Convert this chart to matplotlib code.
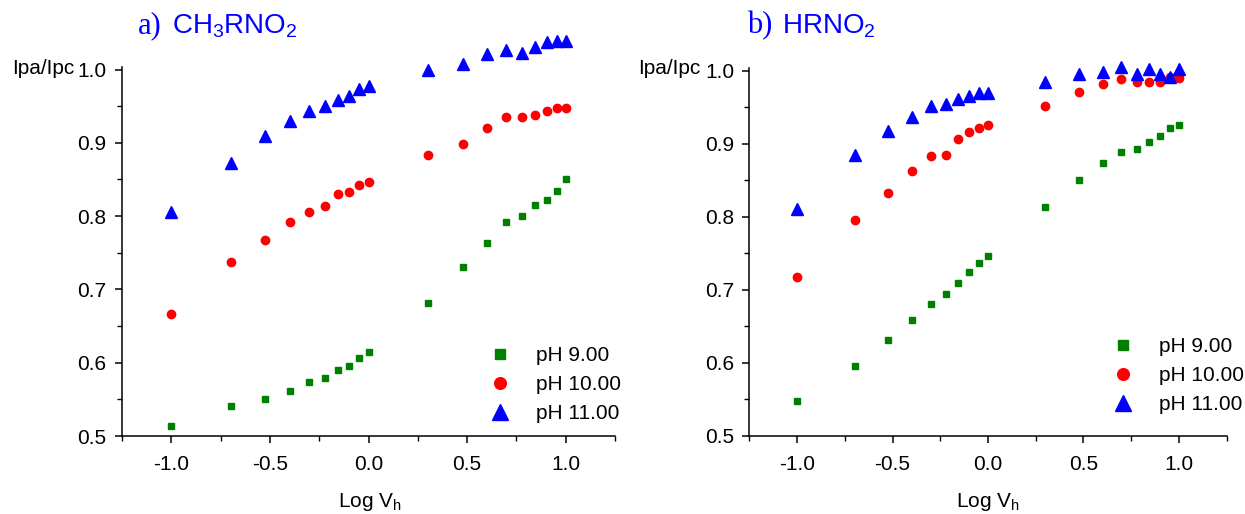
import matplotlib
matplotlib.use("Agg")
import matplotlib.pyplot as plt
from matplotlib.ticker import MultipleLocator

plt.rcParams['font.family'] = ['Liberation Sans', 'DejaVu Sans']
plt.rcParams['mathtext.fontset'] = 'custom'
plt.rcParams['mathtext.rm'] = 'Liberation Sans'
plt.rcParams['mathtext.it'] = 'Liberation Sans'
plt.rcParams['mathtext.default'] = 'rm'

log_v = [-1.0, -0.699, -0.523, -0.398, -0.301, -0.222, -0.155, -0.097, -0.046, 0.0,
         0.301, 0.477, 0.602, 0.699, 0.778, 0.845, 0.903, 0.954, 1.0]

a_ph9 = [0.513, 0.541, 0.551, 0.562, 0.573, 0.579, 0.590, 0.595, 0.606, 0.615,
         0.681, 0.731, 0.763, 0.792, 0.800, 0.815, 0.822, 0.834, 0.851]
a_ph10 = [0.667, 0.737, 0.768, 0.792, 0.806, 0.814, 0.830, 0.833, 0.842, 0.847,
          0.883, 0.899, 0.920, 0.935, 0.935, 0.938, 0.944, 0.948, 0.948]
a_ph11 = [0.805, 0.873, 0.909, 0.930, 0.944, 0.950, 0.958, 0.964, 0.973, 0.977,
          1.000, 1.008, 1.021, 1.027, 1.023, 1.031, 1.037, 1.039, 1.039]

b_ph9 = [0.548, 0.595, 0.631, 0.659, 0.681, 0.694, 0.709, 0.724, 0.737, 0.746,
         0.813, 0.850, 0.874, 0.888, 0.893, 0.903, 0.910, 0.921, 0.926]
b_ph10 = [0.717, 0.795, 0.833, 0.862, 0.883, 0.885, 0.906, 0.916, 0.921, 0.925,
          0.952, 0.971, 0.982, 0.989, 0.984, 0.984, 0.985, 0.991, 0.990]
b_ph11 = [0.810, 0.884, 0.917, 0.937, 0.952, 0.954, 0.961, 0.965, 0.970, 0.970,
          0.984, 0.995, 0.998, 1.005, 0.996, 1.002, 0.996, 0.991, 1.002]

labels = ["pH 9.00", "pH 10.00", "pH 11.00"]
panel_titles = [("a)", r"CH$_3$RNO$_2$"), ("b)", r"HRNO$_2$")]
xticks = [-1.0, -0.5, 0.0, 0.5, 1.0]
yticks = [0.5, 0.6, 0.7, 0.8, 0.9, 1.0]

W, H = 1245, 514
fig = plt.figure(figsize=(W / 100, H / 100), dpi=100)

def fx(px):
    return px / W

def fy(py):
    return 1 - py / H

axes_px = [(122, 615, 436, 69.5), (749.3, 1226.7, 435.7, 70.7)]
datasets = [(a_ph9, a_ph10, a_ph11), (b_ph9, b_ph10, b_ph11)]
legend_px = [(490, 346), (1113, 337)]
title_px = [(138, 172), (747, 782)]
ylab_px = [12, 638]
xlab_px = [370, 988]

for i in range(2):
    x0, x1, yb, yt = axes_px[i]
    ax = fig.add_axes([fx(x0), fy(yb), fx(x1) - fx(x0), fy(yt) - fy(yb)])
    s9, s10, s11 = datasets[i]
    ax.plot(log_v, s9, ls='none', marker='s', ms=5, color='#008000', mec='#008000',
            clip_on=False, label=labels[0])
    ax.plot(log_v, s10, ls='none', marker='o', ms=6, color='#ff0000', mec='#ff0000',
            clip_on=False, label=labels[1])
    ax.plot(log_v, s11, ls='none', marker='^', ms=8, color='#0000ff', mec='#0000ff',
            clip_on=False, label=labels[2])
    ax.set_xlim(-1.25, 1.25)
    ax.set_ylim(0.5, 1.0)
    ax.spines['top'].set_visible(False)
    ax.spines['right'].set_visible(False)
    ax.spines['left'].set_bounds(0.5, 1.004)
    for s in ('left', 'bottom'):
        ax.spines[s].set_linewidth(1.1)
    ax.set_xticks(xticks)
    ax.set_xticklabels([f"{t:.1f}" for t in xticks])
    ax.set_yticks(yticks)
    ax.set_yticklabels([f"{t:.1f}" for t in yticks])
    ax.xaxis.set_minor_locator(MultipleLocator(0.25))
    ax.yaxis.set_minor_locator(MultipleLocator(0.05))
    ax.tick_params(which='major', direction='out', length=5, width=1.1, labelsize=15, pad=6)
    ax.tick_params(which='minor', direction='out', length=3.5, width=1.0)
    ax.tick_params(axis='x', which='major', pad=9)
    ax.patch.set_visible(False)

    leg = ax.legend(loc='upper left', bbox_to_anchor=(fx(legend_px[i][0]), fy(legend_px[i][1])),
                    bbox_transform=fig.transFigure, frameon=False, fontsize=15,
                    handlelength=1.0, handletextpad=1.2, labelspacing=0.48,
                    markerscale=1.4, borderpad=0, borderaxespad=0)

    tx_a, tx_f = title_px[i]
    fig.text(fx(tx_a), fy(33), panel_titles[i][0], family='Liberation Serif', fontsize=22,
             color='#0000ff', va='baseline', ha='left')
    fig.text(fx(tx_f), fy(33), panel_titles[i][1], fontsize=20, color='#0000ff',
             va='baseline', ha='left')
    fig.text(fx(ylab_px[i]), fy(69), "Ipa/Ipc", fontsize=15, va='center', ha='left')
    fig.text(fx(xlab_px[i]), fy(502), r"Log V$_h$", fontsize=15, va='center', ha='center')

fig.savefig("out.png", dpi=100)
